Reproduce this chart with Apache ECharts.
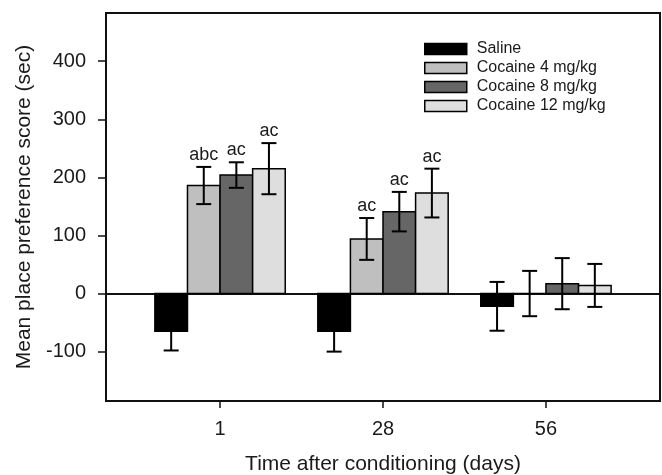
<!DOCTYPE html>
<html>
<head>
<meta charset="utf-8">
<script src="https://cdn.jsdelivr.net/npm/echarts@6/dist/echarts.min.js"></script>
<style>
  html, body { margin: 0; padding: 0; background: #fff; }
  #main { width: 662px; height: 475px; }
</style>
</head>
<body>
<div id="main"></div>
<script>
// data
var days = ['1', '28', '56'];
var yTicks = [-100, 0, 100, 200, 300, 400];

var saline = [-65, -65, -22];
var salineErr = [33, 35, 42];
var coc4 = [186, 94, 0];
var coc4Err = [32, 36, 39];
var coc8 = [204, 141, 17];
var coc8Err = [22, 34, 44];
var coc12 = [215, 173, 14];
var coc12Err = [44, 42, 37];

var salineNotes = ['', '', ''];
var coc4Notes = ['abc', 'ac', ''];
var coc8Notes = ['ac', 'ac', ''];
var coc12Notes = ['ac', 'ac', ''];

var FONT = 'Liberation Sans, Arial, sans-serif';
var TXT = '#1a1a1a';
var barW = 0.2;

var myChart = echarts.init(document.getElementById('main'));

function makeSeries(name, k, values, errs, notes, color) {
  return {
    name: name,
    type: 'custom',
    xAxisIndex: 0,
    yAxisIndex: 0,
    encode: { x: 0, y: 1 },
    data: values.map(function (v, i) { return [i + 1, v, errs[i]]; }),
    itemStyle: { color: color, borderColor: '#000', borderWidth: 1.5 },
    renderItem: function (params, api) {
      var pos = api.value(0), v = api.value(1), e = api.value(2);
      var x = pos + (k - 1.5) * barW;
      var base = api.coord([x, 0]);
      var top = api.coord([x, v]);
      var hi = api.coord([x, v + e]);
      var lo = api.coord([x, v - e]);
      var w = api.size([barW, 0])[0];
      var cap = 7.5;
      var line = { stroke: '#000', lineWidth: 2 };
      return {
        type: 'group',
        children: [
          { type: 'rect',
            shape: { x: base[0] - w / 2, y: Math.min(base[1], top[1]), width: w, height: Math.abs(top[1] - base[1]) },
            style: { fill: color, stroke: '#000', lineWidth: 1.5 } },
          { type: 'line', shape: { x1: hi[0], y1: hi[1], x2: lo[0], y2: lo[1] }, style: line },
          { type: 'line', shape: { x1: hi[0] - cap, y1: hi[1], x2: hi[0] + cap, y2: hi[1] }, style: line },
          { type: 'line', shape: { x1: lo[0] - cap, y1: lo[1], x2: lo[0] + cap, y2: lo[1] }, style: line },
          { type: 'text',
            style: { text: notes[params.dataIndex], x: hi[0], y: hi[1] - 3, align: 'center', verticalAlign: 'bottom',
                     font: '18px ' + FONT, fill: TXT } }
        ]
      };
    }
  };
}

var option = {
  animation: false,
  backgroundColor: '#fff',
  grid: {
    left: 106, right: 2, top: 13, bottom: 74,
    outerBoundsMode: 'none',
    show: true, borderColor: '#111', borderWidth: 2
  },
  legend: {
    orient: 'vertical',
    left: 419, top: 36,
    icon: 'rect',
    itemWidth: 42, itemHeight: 11, itemGap: 3,
    textStyle: { fontFamily: FONT, fontSize: 16, color: TXT, padding: [0, 0, 0, 5] },
    data: [
      { name: 'Saline', itemStyle: { color: '#000', borderColor: '#000', borderWidth: 1.5 } },
      { name: 'Cocaine 4 mg/kg', itemStyle: { color: '#bfbfbf', borderColor: '#000', borderWidth: 1.5 } },
      { name: 'Cocaine 8 mg/kg', itemStyle: { color: '#666', borderColor: '#000', borderWidth: 1.5 } },
      { name: 'Cocaine 12 mg/kg', itemStyle: { color: '#dedede', borderColor: '#000', borderWidth: 1.5 } }
    ]
  },
  xAxis: [
    {
      type: 'value',
      min: 0.3, max: 3.7,
      name: 'Time after conditioning (days)',
      nameLocation: 'middle',
      nameGap: 53,
      nameTextStyle: { fontFamily: FONT, fontSize: 21, color: TXT },
      splitLine: { show: false },
      axisLine: { show: true, onZero: false, lineStyle: { color: '#111', width: 2 } },
      axisTick: { show: true, length: 7, lineStyle: { color: '#111', width: 1.5 }, customValues: [1, 2, 3] },
      axisLabel: {
        fontFamily: FONT, fontSize: 20, color: TXT, margin: 18,
        customValues: [1, 2, 3],
        formatter: function (v) { return days[Math.round(v) - 1] || ''; }
      }
    },
    {
      type: 'value',
      min: 0.3, max: 3.7,
      position: 'bottom',
      splitLine: { show: false },
      axisLine: { show: true, onZero: true, lineStyle: { color: '#111', width: 2 } },
      axisTick: { show: false },
      axisLabel: { show: false }
    }
  ],
  yAxis: {
    type: 'value',
    min: -185, max: 483,
    name: 'Mean place preference score (sec)',
    nameLocation: 'middle',
    nameGap: 59,
    nameTextStyle: { fontFamily: FONT, fontSize: 21, color: TXT },
    splitLine: { show: false },
    axisLine: { show: true, lineStyle: { color: '#111', width: 2 } },
    axisTick: { show: true, length: 8, lineStyle: { color: '#111', width: 1.5 }, customValues: yTicks },
    axisLabel: { fontFamily: FONT, fontSize: 20, color: TXT, margin: 20, customValues: yTicks }
  },
  series: [
    makeSeries('Saline', 0, saline, salineErr, salineNotes, '#000'),
    makeSeries('Cocaine 4 mg/kg', 1, coc4, coc4Err, coc4Notes, '#bfbfbf'),
    makeSeries('Cocaine 8 mg/kg', 2, coc8, coc8Err, coc8Notes, '#666'),
    makeSeries('Cocaine 12 mg/kg', 3, coc12, coc12Err, coc12Notes, '#dedede')
  ]
};

myChart.setOption(option);
</script>
</body>
</html>
